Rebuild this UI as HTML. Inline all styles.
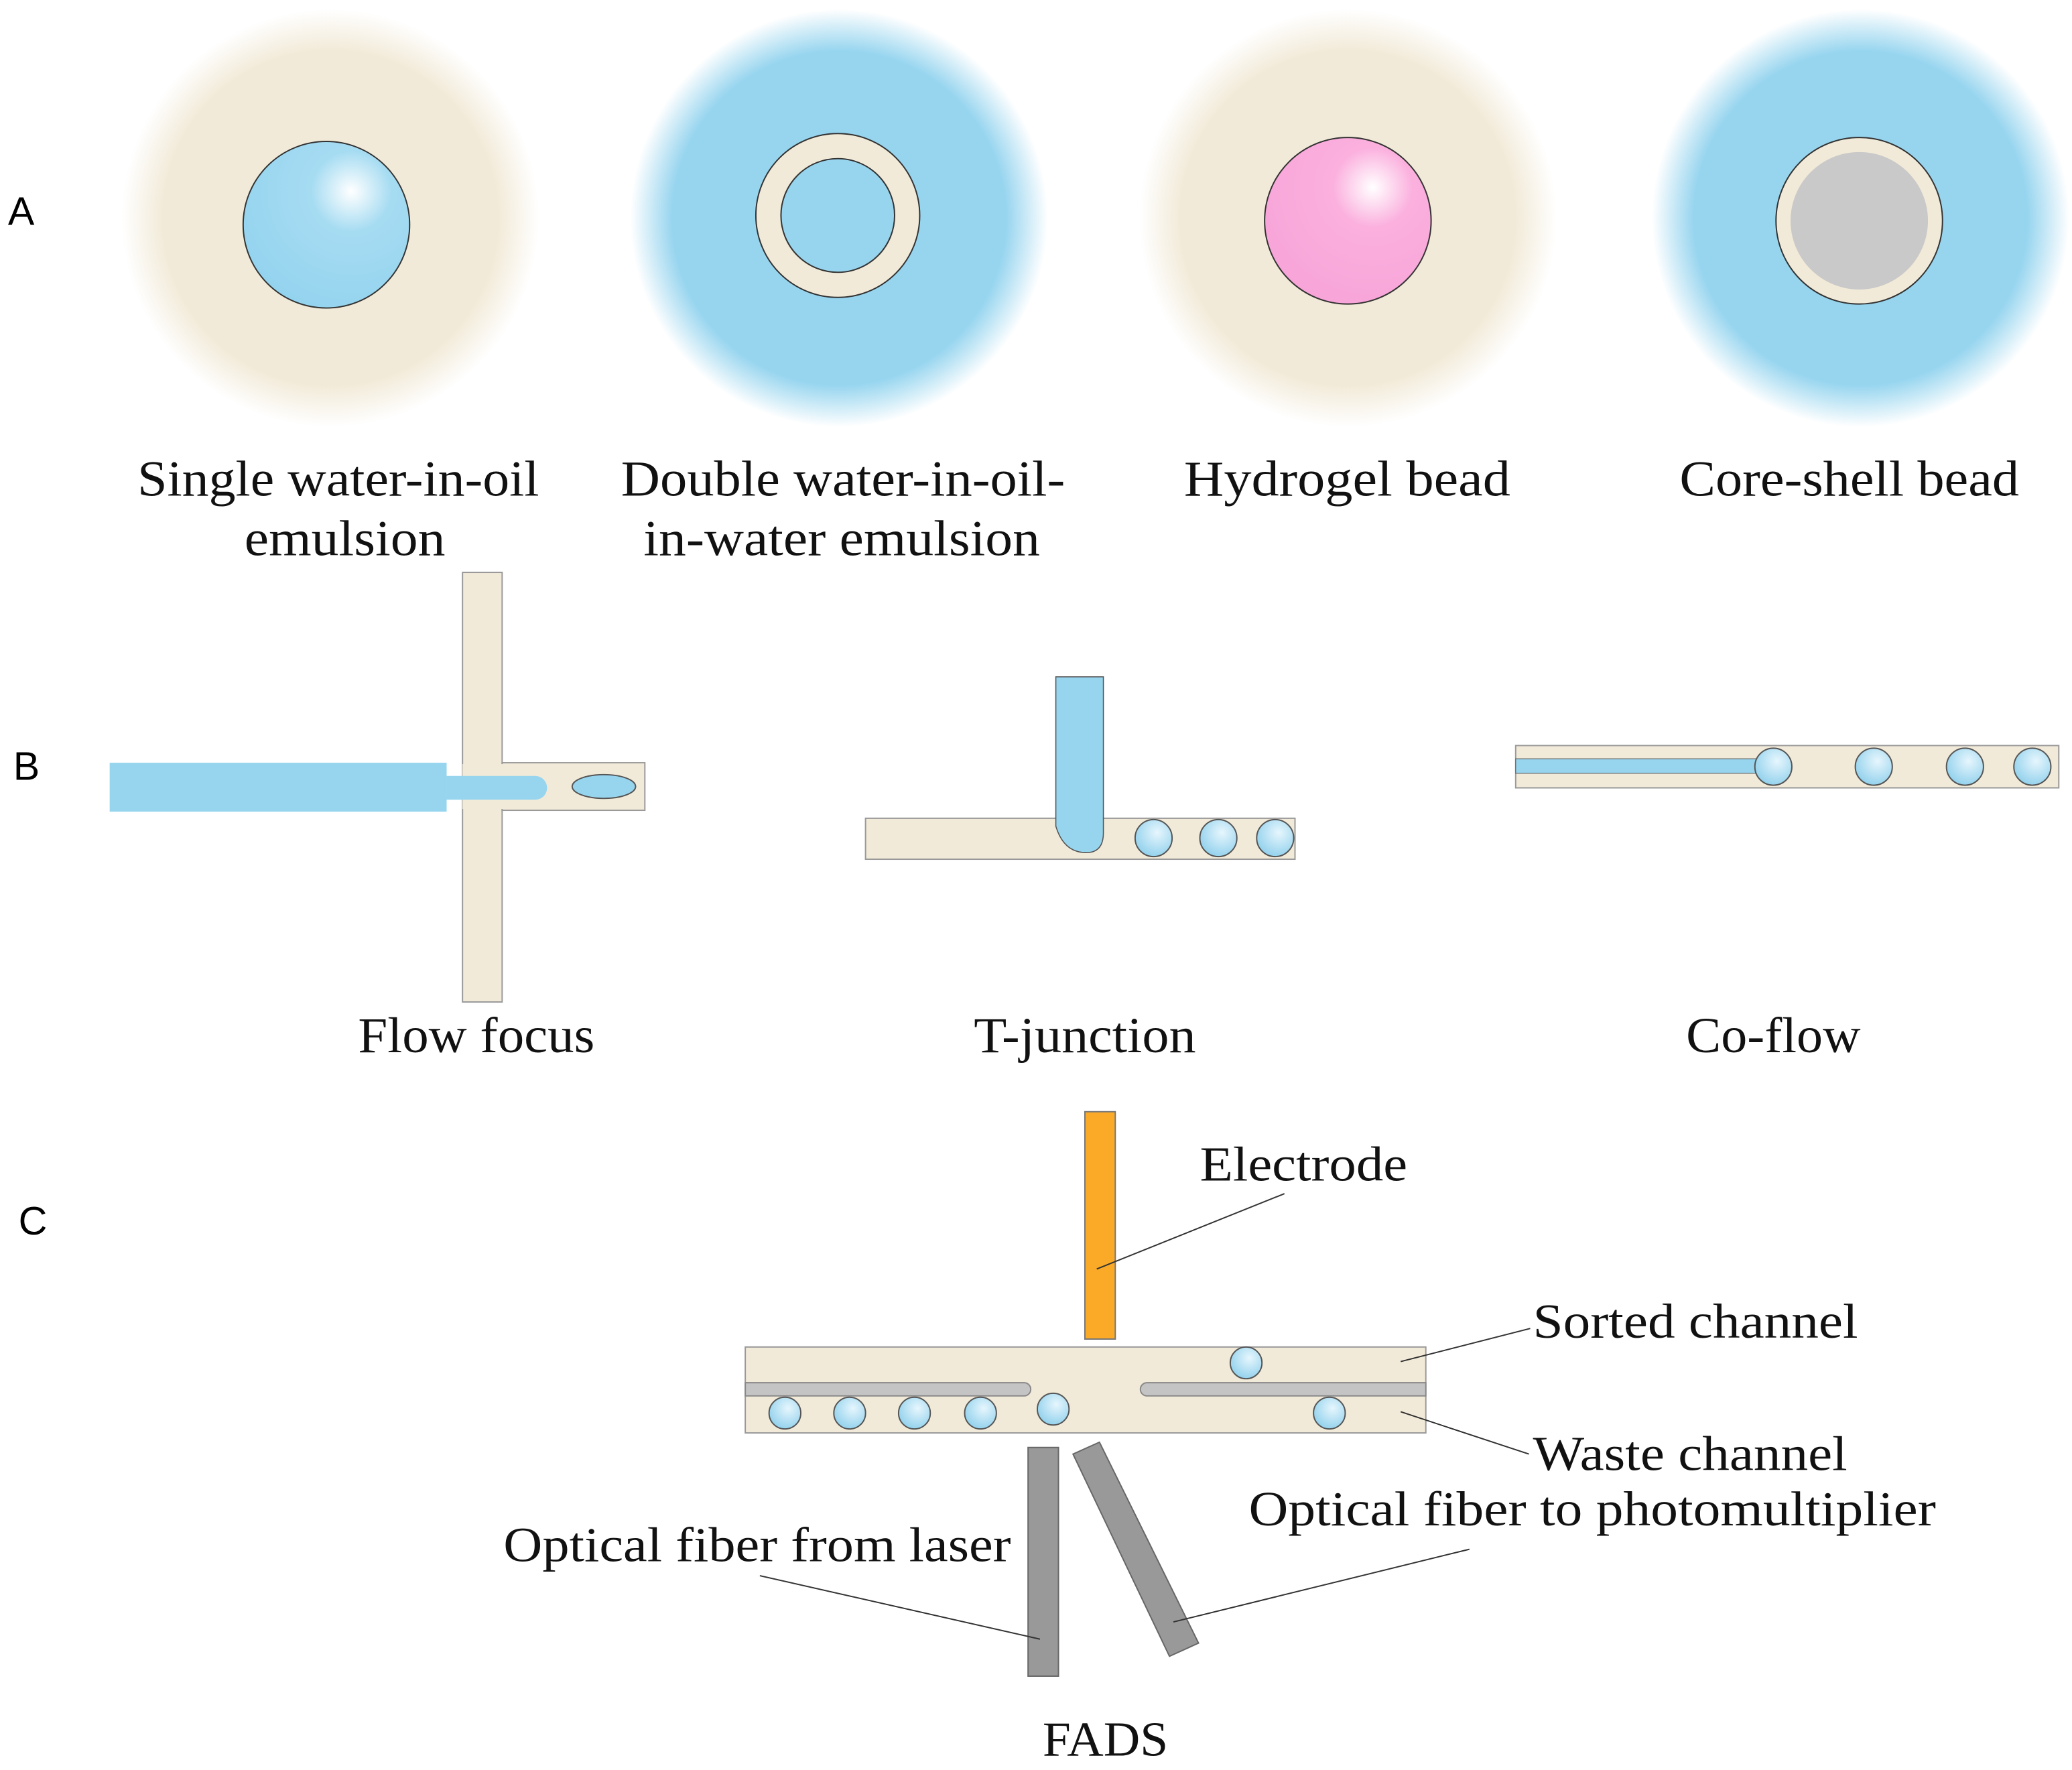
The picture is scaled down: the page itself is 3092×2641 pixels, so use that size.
<!DOCTYPE html>
<html><head><meta charset="utf-8"><style>html,body{margin:0;padding:0;background:#fff}svg{display:block}</style></head>
<body>
<svg width="3092" height="2641" viewBox="0 0 1568 1339" preserveAspectRatio="none" xmlns="http://www.w3.org/2000/svg" font-family="Liberation Serif, serif">
<defs>
<radialGradient id="hb"><stop offset="0.8" stop-color="#f2ead8"/><stop offset="1" stop-color="#f2ead8" stop-opacity="0"/></radialGradient>
<radialGradient id="hw"><stop offset="0.8" stop-color="#97d5ef"/><stop offset="1" stop-color="#97d5ef" stop-opacity="0"/></radialGradient>
<radialGradient id="bw" cx="0.65" cy="0.3" r="0.8"><stop offset="0" stop-color="#fff"/><stop offset="0.3" stop-color="#a6dcf2"/><stop offset="1" stop-color="#92d2ee"/></radialGradient>
<radialGradient id="bp" cx="0.65" cy="0.3" r="0.8"><stop offset="0" stop-color="#fff"/><stop offset="0.3" stop-color="#fbb0de"/><stop offset="1" stop-color="#f7a3d8"/></radialGradient>
<radialGradient id="dr" cx="0.6" cy="0.35" r="0.7"><stop offset="0" stop-color="#e6f6fd"/><stop offset="1" stop-color="#8fd0ec"/></radialGradient>
</defs>
<g font-family="Liberation Sans, sans-serif" font-size="30"><text x="6" y="170">A</text><text x="10" y="590">B</text><text x="14" y="934">C</text></g>
<circle cx="250" cy="165" r="158" fill="url(#hb)"/>
<circle cx="635" cy="165" r="158" fill="url(#hw)"/>
<circle cx="1020" cy="165" r="158" fill="url(#hb)"/>
<circle cx="1408" cy="165" r="158" fill="url(#hw)"/>
<circle cx="247" cy="170" r="63" fill="url(#bw)" stroke="#333" stroke-width="1"/>
<circle cx="634" cy="163" r="62" fill="#f2ead8" stroke="#333" stroke-width="1"/>
<circle cx="634" cy="163" r="43" fill="#97d5ef" stroke="#333" stroke-width="1"/>
<circle cx="1020" cy="167" r="63" fill="url(#bp)" stroke="#333" stroke-width="1"/>
<circle cx="1407" cy="167" r="63" fill="#f2ead8" stroke="#333" stroke-width="1"/>
<circle cx="1407" cy="167" r="52" fill="#c9c9c9"/>
<g font-size="38" fill="#111" lengthAdjust="spacingAndGlyphs">
<text x="104" y="375" textLength="304" lengthAdjust="spacingAndGlyphs">Single water-in-oil</text>
<text x="185" y="420" textLength="152" lengthAdjust="spacingAndGlyphs">emulsion</text>
<text x="470" y="375" textLength="336" lengthAdjust="spacingAndGlyphs">Double water-in-oil-</text>
<text x="487" y="420" textLength="300" lengthAdjust="spacingAndGlyphs">in-water emulsion</text>
<text x="896" y="375" textLength="247" lengthAdjust="spacingAndGlyphs">Hydrogel bead</text>
<text x="1271" y="375" textLength="257" lengthAdjust="spacingAndGlyphs">Core-shell bead</text>
<text x="271" y="796" textLength="179" lengthAdjust="spacingAndGlyphs">Flow focus</text>
<text x="737" y="796" textLength="168" lengthAdjust="spacingAndGlyphs">T-junction</text>
<text x="1276" y="796" textLength="132" lengthAdjust="spacingAndGlyphs">Co-flow</text>
</g>
<!-- flow focus -->
<rect x="350" y="433" width="30" height="325" fill="#f2ead8" stroke="#999" stroke-width="1"/>
<rect x="380" y="577" width="108" height="36" fill="#f2ead8" stroke="#999" stroke-width="1"/>
<rect x="350" y="578" width="31" height="34" fill="#f2ead8"/>
<rect x="83" y="577" width="255" height="37" fill="#97d5ef"/>
<path d="M338 587 H405 A9 9 0 0 1 405 605 H338 Z" fill="#97d5ef"/>
<ellipse cx="457" cy="595" rx="24" ry="9" fill="#97d5ef" stroke="#555" stroke-width="1"/>
<!-- T junction -->
<rect x="655" y="619" width="325" height="31" fill="#f2ead8" stroke="#999" stroke-width="1"/>
<path d="M799 512 H835 V630 Q835 645 822 645 Q805 645 799 625 Z" fill="#97d5ef" stroke="#555" stroke-width="0.8"/>
<g fill="url(#dr)" stroke="#555" stroke-width="1"><circle cx="873" cy="634" r="14"/><circle cx="922" cy="634" r="14"/><circle cx="965" cy="634" r="14"/></g>
<!-- co-flow -->
<rect x="1147" y="564" width="411" height="32" fill="#f2ead8" stroke="#999" stroke-width="1"/>
<rect x="1147" y="574" width="190" height="11" fill="#97d5ef" stroke="#666" stroke-width="0.6"/>
<g fill="url(#dr)" stroke="#555" stroke-width="1"><circle cx="1342" cy="580" r="14"/><circle cx="1418" cy="580" r="14"/><circle cx="1487" cy="580" r="14"/><circle cx="1538" cy="580" r="14"/></g>
<!-- FADS -->
<rect x="821" y="841" width="23" height="172" fill="#fbaa28" stroke="#777" stroke-width="1"/>
<rect x="564" y="1019" width="515" height="65" fill="#f2ead8" stroke="#999" stroke-width="1"/>
<path d="M564 1046 H775 A5 5 0 0 1 775 1056 H564 Z" fill="#c4c4c4" stroke="#888" stroke-width="1"/>
<path d="M1079 1046 H868 A5 5 0 0 0 868 1056 H1079 Z" fill="#c4c4c4" stroke="#888" stroke-width="1"/>
<g fill="url(#dr)" stroke="#555" stroke-width="1">
<circle cx="594" cy="1069" r="12"/><circle cx="643" cy="1069" r="12"/><circle cx="692" cy="1069" r="12"/><circle cx="742" cy="1069" r="12"/><circle cx="797" cy="1066" r="12"/><circle cx="1006" cy="1069" r="12"/><circle cx="943" cy="1031" r="12"/></g>
<rect x="778" y="1095" width="23" height="173" fill="#999" stroke="#666" stroke-width="1"/>
<polygon points="812,1100 832,1091 907,1243 885,1253" fill="#999" stroke="#666" stroke-width="1"/>
<g stroke="#333" stroke-width="1" fill="none">
<line x1="972" y1="903" x2="830" y2="960"/><line x1="1158" y1="1005" x2="1060" y2="1030"/><line x1="1157" y1="1100" x2="1060" y2="1068"/>
<line x1="1112" y1="1172" x2="888" y2="1227"/><line x1="575" y1="1192" x2="787" y2="1240"/>
</g>
<g font-size="37" fill="#111">
<text x="908" y="893" textLength="157" lengthAdjust="spacingAndGlyphs">Electrode</text>
<text x="1160" y="1012" textLength="246" lengthAdjust="spacingAndGlyphs">Sorted channel</text>
<text x="1160" y="1112" textLength="238" lengthAdjust="spacingAndGlyphs">Waste channel</text>
<text x="945" y="1154" textLength="520" lengthAdjust="spacingAndGlyphs">Optical fiber to photomultiplier</text>
<text x="381" y="1181" textLength="384" lengthAdjust="spacingAndGlyphs">Optical fiber from laser</text>
<text x="789" y="1328" textLength="95" lengthAdjust="spacingAndGlyphs">FADS</text></g>
</svg>
</body></html>
